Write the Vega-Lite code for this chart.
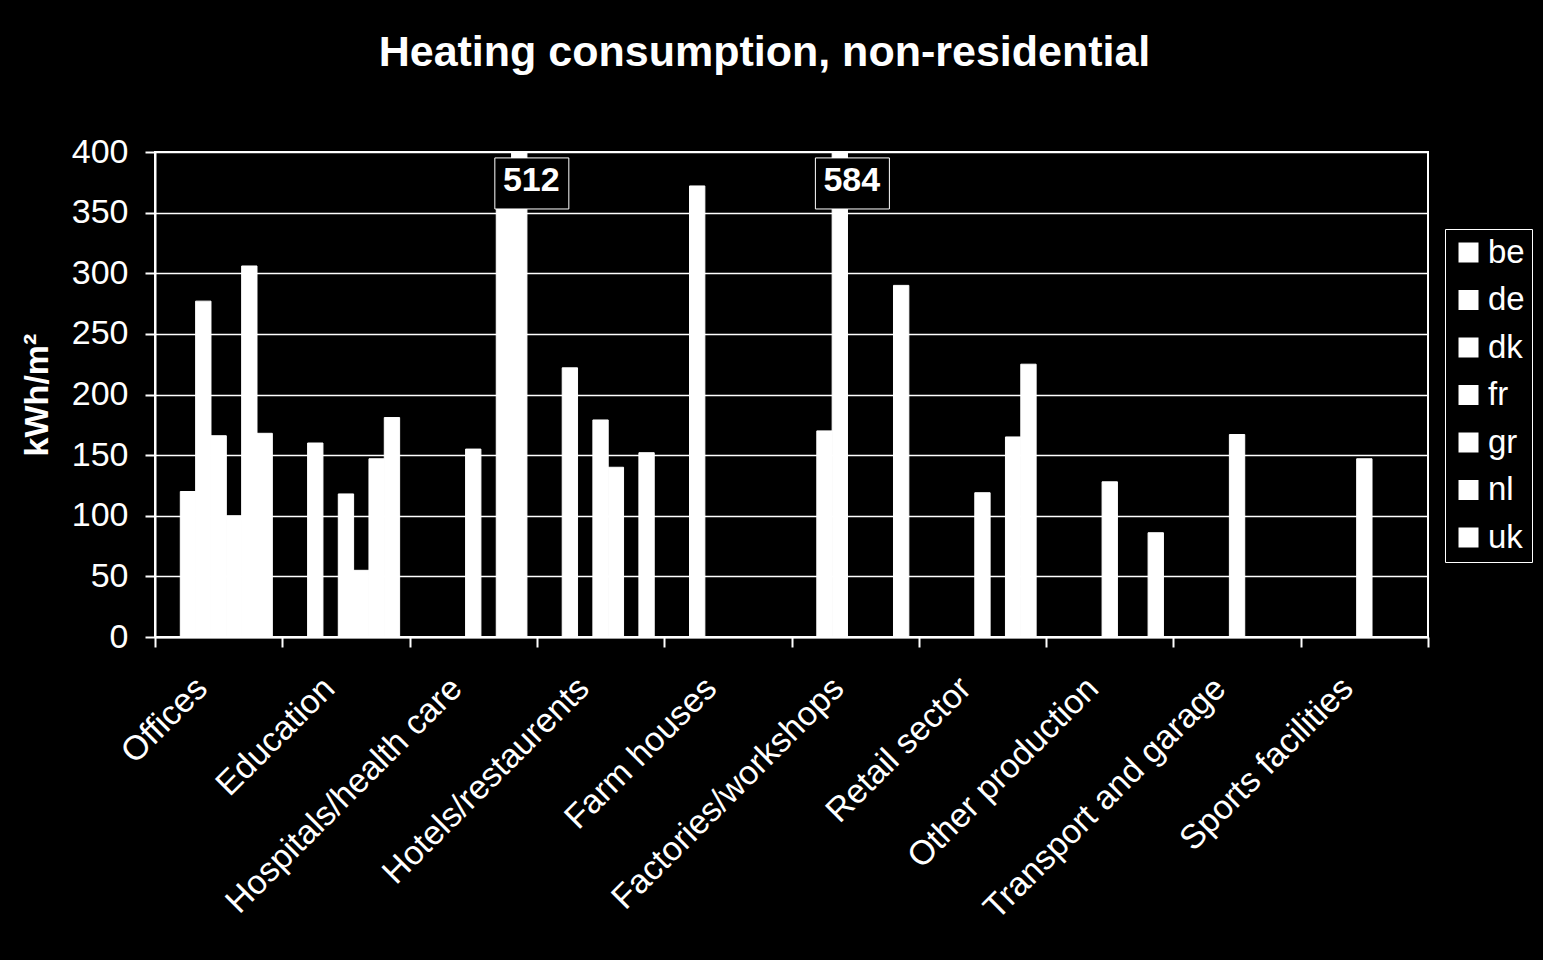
{
  "$schema": "https://vega.github.io/schema/vega-lite/v6.json",
  "width": 1273,
  "height": 485,
  "autosize": {"type": "none"},
  "padding": {"left": 155, "top": 152, "right": 115, "bottom": 323},
  "background": "black",
  "config": {
    "view": {"stroke": "white", "strokeWidth": 2},
    "font": "Liberation Sans"
  },
  "title": {
    "text": "Heating consumption, non-residential",
    "color": "white",
    "font": "Liberation Sans",
    "fontSize": 43,
    "fontWeight": "bold",
    "anchor": "middle",
    "frame": "group",
    "dx": -27,
    "offset": 60
  },
  "data": {
    "values": [
      {"category": "Offices", "country": "de", "value": 120},
      {"category": "Offices", "country": "dk", "value": 277},
      {"category": "Offices", "country": "fr", "value": 166},
      {"category": "Offices", "country": "gr", "value": 100},
      {"category": "Offices", "country": "nl", "value": 306},
      {"category": "Offices", "country": "uk", "value": 168},
      {"category": "Education", "country": "de", "value": 160},
      {"category": "Education", "country": "fr", "value": 118},
      {"category": "Education", "country": "gr", "value": 55},
      {"category": "Education", "country": "nl", "value": 147},
      {"category": "Education", "country": "uk", "value": 181},
      {"category": "Hospitals/health care", "country": "fr", "value": 155},
      {"category": "Hospitals/health care", "country": "nl", "value": 357},
      {"category": "Hospitals/health care", "country": "uk", "value": 512},
      {"category": "Hotels/restaurents", "country": "de", "value": 222},
      {"category": "Hotels/restaurents", "country": "fr", "value": 179},
      {"category": "Hotels/restaurents", "country": "gr", "value": 140},
      {"category": "Hotels/restaurents", "country": "uk", "value": 152},
      {"category": "Farm houses", "country": "de", "value": 372},
      {"category": "Factories/workshops", "country": "de", "value": 170},
      {"category": "Factories/workshops", "country": "dk", "value": 584},
      {"category": "Factories/workshops", "country": "uk", "value": 290},
      {"category": "Retail sector", "country": "fr", "value": 119},
      {"category": "Retail sector", "country": "nl", "value": 165},
      {"category": "Retail sector", "country": "uk", "value": 225},
      {"category": "Other production", "country": "fr", "value": 128},
      {"category": "Other production", "country": "uk", "value": 86},
      {"category": "Transport and garage", "country": "fr", "value": 167},
      {"category": "Sports facilities", "country": "fr", "value": 147}
    ]
  },
  "encoding": {
    "x": {
      "field": "category",
      "type": "nominal",
      "scale": {
        "domain": ["Offices", "Education", "Hospitals/health care", "Hotels/restaurents", "Farm houses", "Factories/workshops", "Retail sector", "Other production", "Transport and garage", "Sports facilities"],
        "paddingInner": 0,
        "paddingOuter": 0
      },
      "axis": {
        "title": null,
        "labelAngle": -45,
        "labelAlign": "right",
        "labelBaseline": "middle",
        "labelFontSize": 34,
        "labelFont": "Liberation Sans",
        "labelColor": "white",
        "labelPadding": 36,
        "labelOffset": -17,
        "labelLimit": 1000,
        "labelOverlap": false,
        "tickBand": "extent",
        "tickSize": 10,
        "tickColor": "white",
        "tickWidth": 2,
        "domainColor": "white",
        "domainWidth": 2,
        "grid": false
      }
    },
    "xOffset": {
      "field": "country",
      "type": "nominal",
      "scale": {
        "domain": ["be", "de", "dk", "fr", "gr", "nl", "uk"],
        "paddingInner": 0,
        "paddingOuter": 0.65
      }
    },
    "y": {
      "field": "value",
      "type": "quantitative",
      "scale": {"domain": [0, 400], "clamp": true, "nice": false},
      "axis": {
        "title": "kWh/m²",
        "titleFont": "Liberation Sans",
        "titleFontSize": 34,
        "titleFontWeight": "bold",
        "titleColor": "white",
        "titlePadding": 17,
        "values": [0, 50, 100, 150, 200, 250, 300, 350, 400],
        "labelFont": "Liberation Sans",
        "labelFontSize": 34,
        "labelColor": "white",
        "labelPadding": 17,
        "tickSize": 10,
        "tickColor": "white",
        "tickWidth": 2,
        "domainColor": "white",
        "domainWidth": 2,
        "grid": true,
        "gridColor": "white",
        "gridWidth": 1.3,
        "gridOpacity": 1
      }
    }
  },
  "layer": [
    {
      "mark": {"type": "bar", "opacity": 1, "stroke": "white", "strokeWidth": 1},
      "encoding": {
        "color": {
          "field": "country",
          "type": "nominal",
          "scale": {
            "domain": ["be", "de", "dk", "fr", "gr", "nl", "uk"],
            "range": ["white", "white", "white", "white", "white", "white", "white"]
          },
          "legend": {
            "title": null,
            "orient": "none",
            "legendX": 1290,
            "legendY": 77,
            "symbolType": "square",
            "symbolSize": 400,
            "symbolFillColor": "white",
            "symbolStrokeWidth": 0,
            "symbolOpacity": 1,
            "labelFont": "Liberation Sans",
            "labelFontSize": 33,
            "labelColor": "white",
            "labelOffset": 3,
            "labelLimit": 300,
            "rowPadding": 13.5,
            "padding": 7,
            "strokeColor": "white",
            "fillColor": "black"
          }
        }
      }
    },
    {
      "transform": [{"filter": "datum.value > 400"}],
      "mark": {
        "type": "point",
        "shape": "M-0.66,0.16L1.34,0.16L1.34,1.54L-0.66,1.54Z",
        "size": 5476,
        "filled": true,
        "fill": "black",
        "stroke": "white",
        "strokeWidth": 1,
        "opacity": 1
      }
    },
    {
      "transform": [{"filter": "datum.value > 400"}],
      "mark": {
        "type": "text",
        "font": "Liberation Sans",
        "fontSize": 34,
        "fontWeight": "bold",
        "color": "white",
        "dx": 12,
        "dy": 29,
        "baseline": "middle",
        "align": "center"
      },
      "encoding": {
        "text": {"field": "value", "type": "quantitative"}
      }
    }
  ]
}
